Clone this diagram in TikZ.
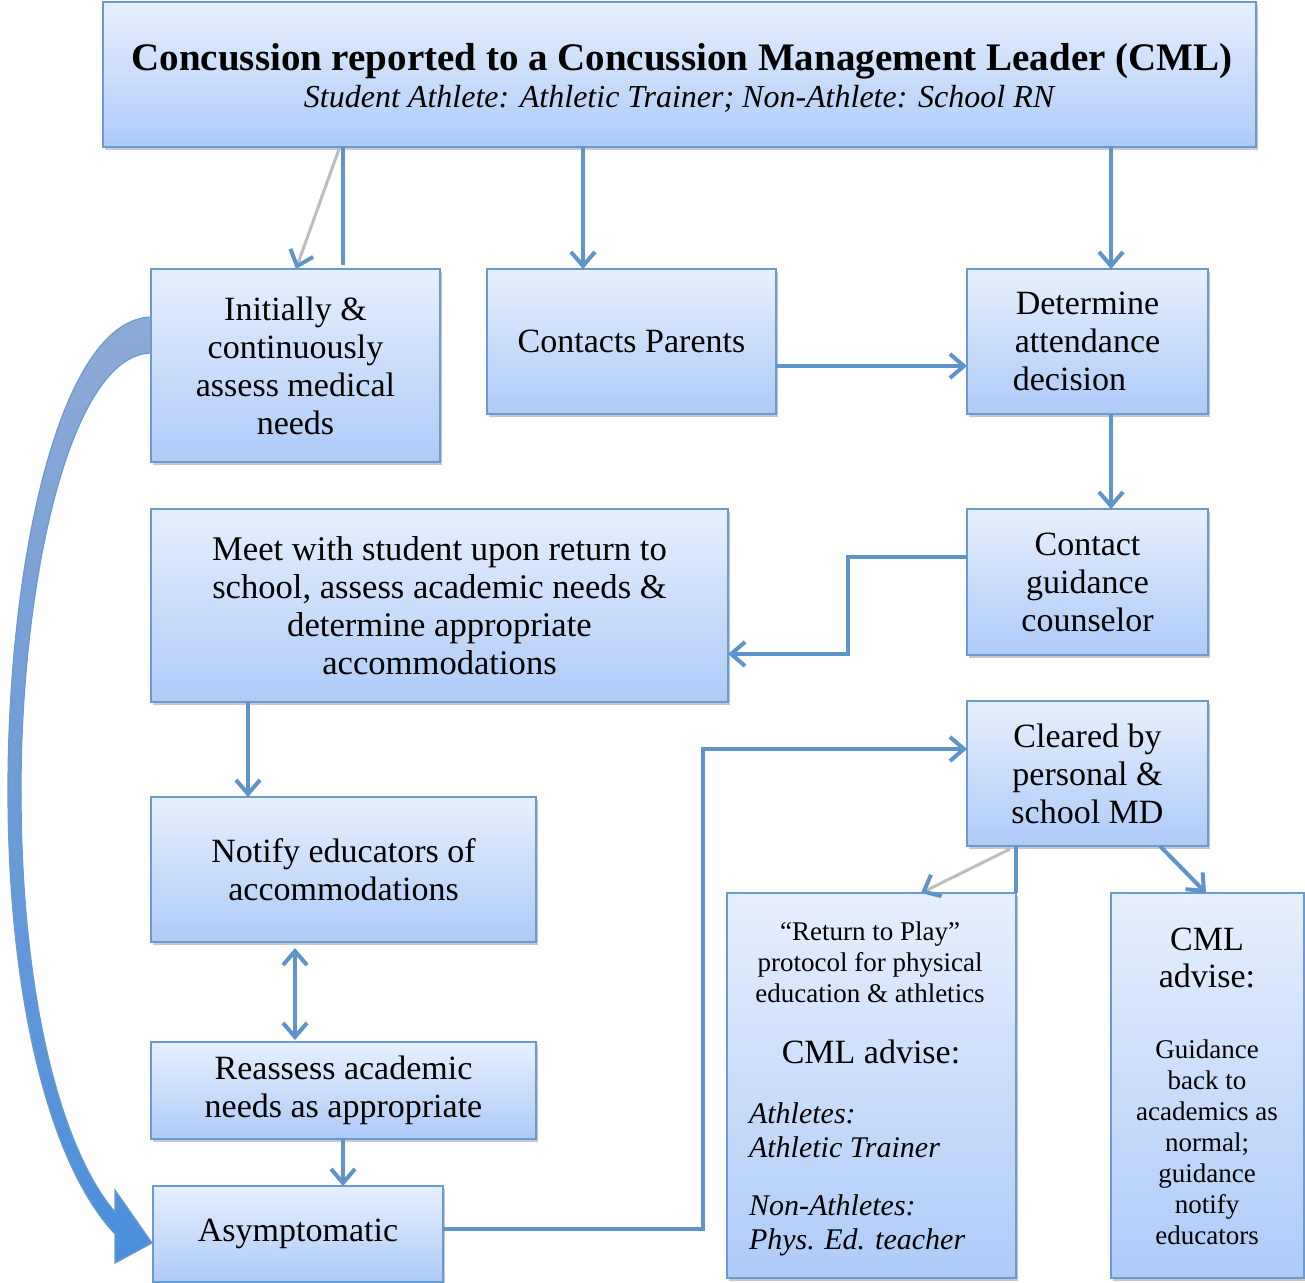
\documentclass[tikz,border=0pt]{standalone}
\usepackage{fontspec}
\setmainfont{Liberation Serif}
\usetikzlibrary{arrows.meta,shadows,calc}
\definecolor{boxtop}{HTML}{E7EFFD}
\definecolor{boxbot}{HTML}{ADCBF8}
\definecolor{boxline}{HTML}{6A9AD0}
\definecolor{lineblue}{HTML}{5E94C9}
\definecolor{ghost}{HTML}{BDBDBD}
\definecolor{arrtop}{HTML}{8EAAD6}
\definecolor{arrbot}{HTML}{4A8FDB}
\begin{document}
\begin{tikzpicture}[x=0.5pt,y=-0.5pt,
  box/.style={draw=boxline, line width=1pt, top color=boxtop, bottom color=boxbot,
    inner sep=0pt, outer sep=0pt, align=center,
    drop shadow={shadow xshift=1pt, shadow yshift=-1.5pt, opacity=0.3, fill=black!70}},
  txt/.style={font=\fontsize{17}{19}\selectfont},
  small/.style={font=\fontsize{13.5}{15.5}\selectfont},
  conn/.style={draw=lineblue, line width=2pt},
  arr/.style={conn, -{Straight Barb[length=7pt,width=12pt]}},
  darr/.style={conn, {Straight Barb[length=7pt,width=12pt]}-{Straight Barb[length=7pt,width=12pt]}},
  ghostarr/.style={draw=ghost, line width=1.5pt, -{Straight Barb[length=7pt,width=12pt,color=lineblue,line width=2pt]}},
  bigarrow/.style={top color=arrtop, bottom color=arrbot, draw=boxline, line width=0.6pt}
]
\useasboundingbox (0,0) rectangle (1305,1283);
\fill[white] (0,0) rectangle (1305,1283);

% big curved arrow
\path[bigarrow] (151,317) .. controls (60,320) and (8,560) .. (8,790)
  .. controls (8,1000) and (50,1165) .. (115,1234)
  -- (115,1263) -- (152,1243) -- (115,1190) -- (115,1212)
  .. controls (62,1150) and (21,1000) .. (21,790)
  .. controls (21,580) and (70,355) .. (151,353) -- cycle;

% boxes
\node[box, minimum width=576.5pt, minimum height=72.5pt] (top) at (679.5,74.5) {};
\node[font=\fontsize{19.5}{23}\selectfont\bfseries] (title) at (682,61) {Concussion reported to a Concussion Management Leader (CML)};
\node[font=\fontsize{16}{19}\selectfont\itshape] (sub) at (679,99) {Student Athlete: Athletic Trainer; Non-Athlete: School RN};

\node[box, txt, minimum width=144.5pt, minimum height=96.5pt] (init) at (295.5,365.5) {Initially \&\\continuously\\assess medical\\needs};
\node[box, txt, minimum width=144.5pt, minimum height=72.5pt] (parents) at (631.5,341.5) {Contacts Parents};
\node[box, txt, minimum width=120.5pt, minimum height=72.5pt] (determine) at (1087.5,341.5) {Determine\\attendance\\decision\hspace*{18pt}};
\node[box, txt, minimum width=120.5pt, minimum height=73pt] (guidance) at (1087.5,582) {Contact\\guidance\\counselor};
\node[box, font=\fontsize{17.3}{19}\selectfont, minimum width=288.5pt, minimum height=96.5pt] (meet) at (439.5,605.5) {Meet with student upon return to\\school, assess academic needs \&\\determine appropriate\\accommodations};
\node[box, txt, minimum width=192.5pt, minimum height=72.5pt] (notify) at (343.5,869.5) {Notify educators of\\accommodations};
\node[box, txt, minimum width=192.5pt, minimum height=48.5pt] (reassess) at (343.5,1090.5) {Reassess academic\\needs as appropriate};
\node[box, txt, minimum width=145pt, minimum height=48pt] (asym) at (298,1234) {Asymptomatic};
\node[box, txt, minimum width=120.5pt, minimum height=72.5pt] (cleared) at (1087.5,773.5) {Cleared by\\personal \&\\school MD};
\node[box, minimum width=144.5pt, minimum height=192.5pt] (rtp) at (871.5,1085.5) {};
\node[box, minimum width=96.5pt, minimum height=192.5pt] (cml) at (1207.5,1085.5) {};

% texts in the two tall boxes
\node[small, align=center] (rtp1) at (870,962) {``Return to Play''\\protocol for physical\\education \& athletics};
\node[txt] (rtp2) at (871,1052) {CML advise:};
\node[font=\fontsize{15}{17}\selectfont\itshape, align=left, anchor=west] (rtp3) at (742,1130) {Athletes:\\Athletic Trainer};
\node[font=\fontsize{15}{17}\selectfont\itshape, align=left, anchor=west] (rtp4) at (742,1225) {Non-Athletes:\\Phys.\ \hspace{1pt}Ed. teacher};
\node[font=\fontsize{17}{18.5}\selectfont, align=center] (cml1) at (1207,958) {CML\\advise:};
\node[small, align=center] (cml2) at (1207,1142) {Guidance\\back to\\academics as\\normal;\\guidance\\notify\\educators};

% helper coordinates
\coordinate (xa) at (343,0);
\coordinate (xb) at (296,0);
\coordinate (xc) at (583,0);
\coordinate (xd) at (1111,0);
\coordinate (xe) at (848,0);
\coordinate (xf) at (248,0);
\coordinate (xg) at (295,0);
\coordinate (xh) at (703,0);
\coordinate (xi) at (1016,0);
\coordinate (xj) at (921,0);
\coordinate (xk) at (1160,0);
\coordinate (xl) at (1206,0);
\coordinate (ya) at (0,366);
\coordinate (yb) at (0,557);
\coordinate (yc) at (0,654);
\coordinate (yd) at (0,1229);
\coordinate (ye) at (0,749);

% connectors
\draw[conn] (xa |- top.south) -- ($(xa |- init.north)+(0,-4)$);
\draw[ghostarr] ($(xa |- top.south)+(-4,2)$) -- (xb |- init.north);
\draw[arr] (xc |- top.south) -- (xc |- parents.north);
\draw[arr] (xd |- top.south) -- (xd |- determine.north);
\draw[arr] (parents.east |- ya) -- (determine.west |- ya);
\draw[arr] (xd |- determine.south) -- (xd |- guidance.north);
\draw[arr] (guidance.west |- yb) -| (xe |- yc) -- (meet.east |- yc);
\draw[arr] (xf |- meet.south) -- (xf |- notify.north);
\draw[darr] ($(xg |- notify.south)+(0,6)$) -- ($(xg |- reassess.north)+(0,-2)$);
\draw[arr] (xa |- reassess.south) -- (xa |- asym.north);
\draw[arr] (asym.east |- yd) -| (xh |- ye) -- (cleared.west |- ye);
\draw[conn] (xi |- cleared.south) -- (xi |- rtp.north);
\draw[ghostarr] ($(xi |- cleared.south)+(-6,3)$) -- (xj |- rtp.north);
\draw[arr] (xk |- cleared.south) -- (xl |- cml.north);
\end{tikzpicture}
\end{document}
